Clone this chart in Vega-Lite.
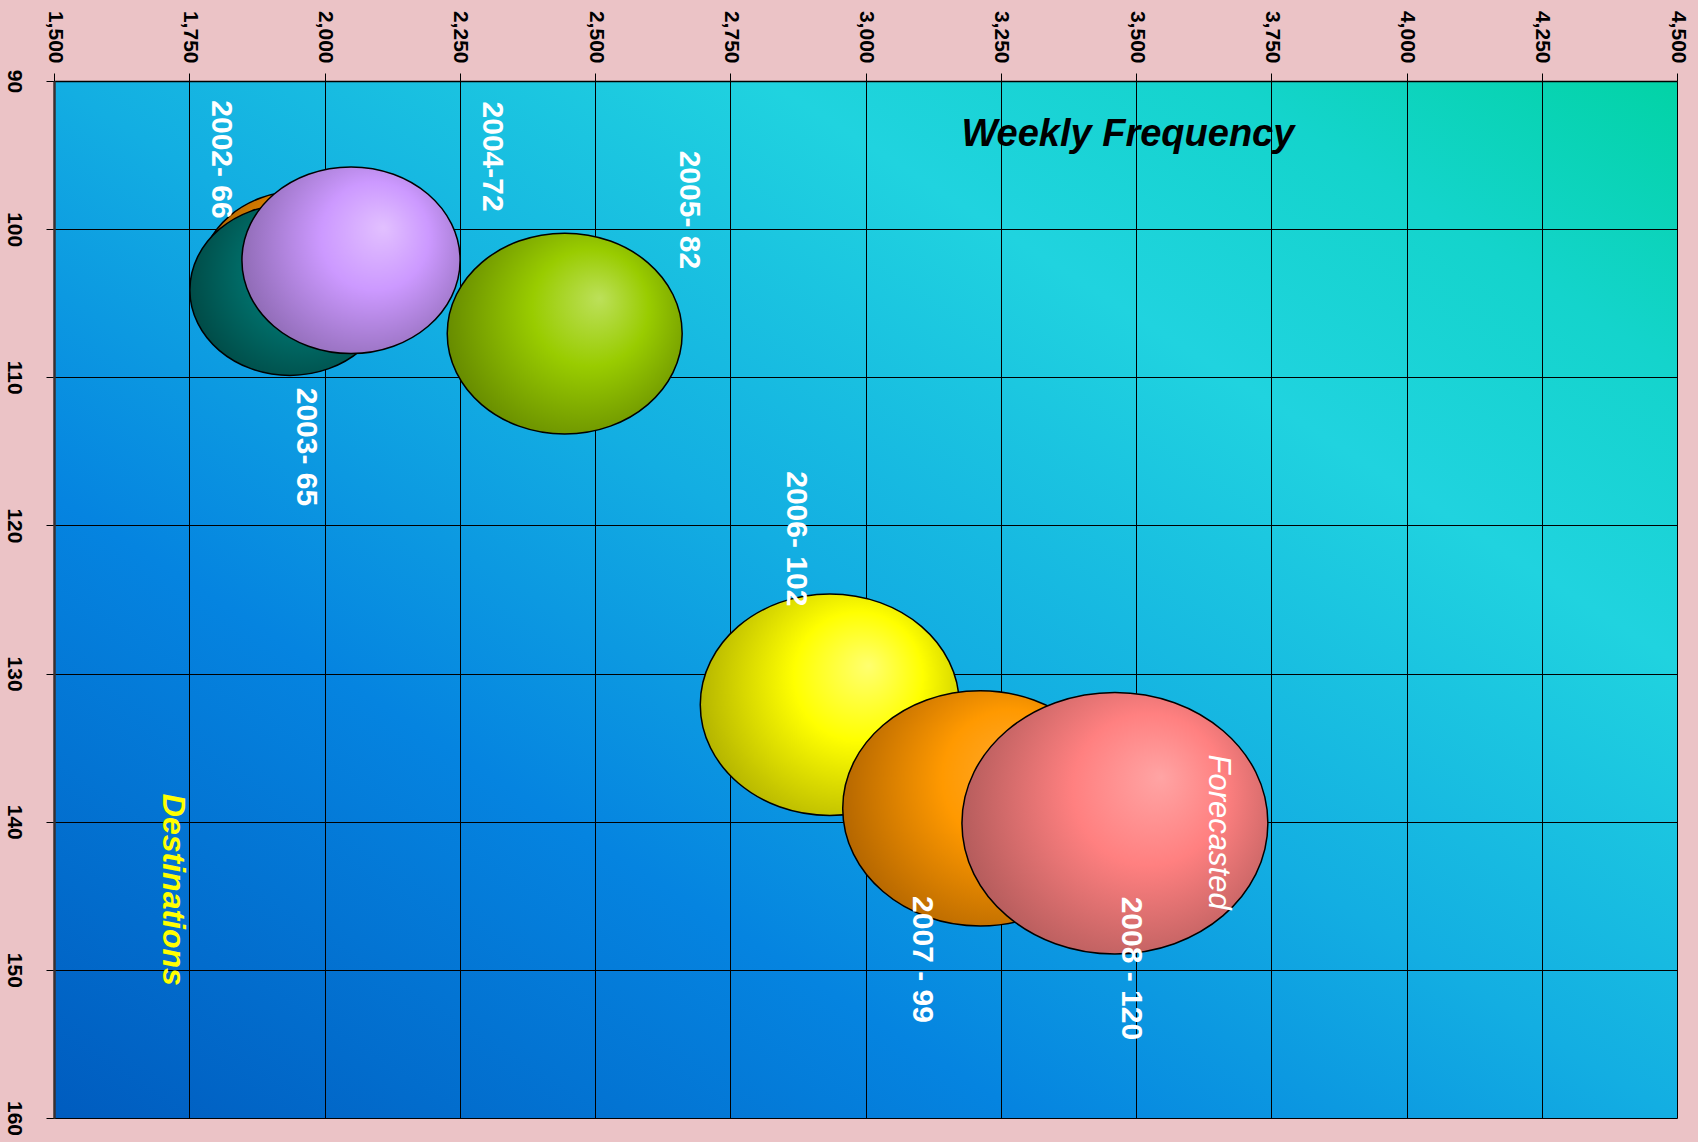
{
  "$schema": "https://vega.github.io/schema/vega-lite/v6.json",
  "width": 1623,
  "height": 1037,
  "autosize": {"type": "none"},
  "padding": {"left": 54, "top": 81, "right": 21, "bottom": 24},
  "background": "#ebc3c6",
  "view": {
    "stroke": null,
    "fill": {
      "gradient": "linear", "x1": 0, "y1": 1, "x2": 1, "y2": 0,
      "stops": [
        {"offset": 0, "color": "#005cbf"},
        {"offset": 0.3, "color": "#0584e0"},
        {"offset": 0.5, "color": "#13aee2"},
        {"offset": 0.72, "color": "#20d3df"},
        {"offset": 0.86, "color": "#14d4cc"},
        {"offset": 1, "color": "#02d3a6"}
      ]
    }
  },
  "config": {
    "font": "Liberation Sans",
    "axis": {
      "gridColor": "#000000", "gridOpacity": 1, "gridWidth": 1,
      "tickColor": "#000000", "tickSize": 8,
      "labelColor": "#000000", "labelFont": "Liberation Sans", "labelFontWeight": "bold", "labelFontSize": 21,
      "title": null
    }
  },
  "datasets": {
    "bubbles": [
      {"year": "2002", "freq": 1955, "dest": 103.2, "volume": 40},
      {"year": "2003", "freq": 1936, "dest": 104.1, "volume": 40},
      {"year": "2004", "freq": 2049, "dest": 102.1, "volume": 47.6},
      {"year": "2005", "freq": 2444, "dest": 107.05, "volume": 55.2},
      {"year": "2006", "freq": 2934, "dest": 132.1, "volume": 67.1},
      {"year": "2007", "freq": 3212, "dest": 139.1, "volume": 75.6},
      {"year": "2008", "freq": 3461, "dest": 140.1, "volume": 93.6}
    ],
    "labels": [
      {"text": "2002- 66", "freq": 1808, "dest": 95.3},
      {"text": "2003- 65", "freq": 1965, "dest": 114.7},
      {"text": "2004-72", "freq": 2309, "dest": 95.1},
      {"text": "2005- 82", "freq": 2673, "dest": 98.7},
      {"text": "2006- 102", "freq": 2871, "dest": 120.9},
      {"text": "2007 - 99", "freq": 3105, "dest": 149.3},
      {"text": "2008 - 120", "freq": 3490, "dest": 149.9}
    ],
    "notes": [
      {"text": "Forecasted", "freq": 3652, "dest": 140.7}
    ],
    "dests": [
      {"text": "Destinations", "freq": 1720, "dest": 144.6}
    ],
    "titles": [
      {"text": "Weekly Frequency", "freq": 3485, "dest": 93.65}
    ]
  },
  "encoding": {
    "x": {
      "field": "freq", "type": "quantitative",
      "scale": {"domain": [1500, 4500], "nice": false, "zero": false},
      "axis": {
        "orient": "top",
        "values": [1500, 1750, 2000, 2250, 2500, 2750, 3000, 3250, 3500, 3750, 4000, 4250, 4500],
        "format": ",d",
        "labelAngle": 90, "labelAlign": "right", "labelBaseline": "middle",
        "labelPadding": 10, "domainColor": "#000000", "domainWidth": 1.5
      }
    },
    "y": {
      "field": "dest", "type": "quantitative",
      "scale": {"domain": [90, 160], "nice": false, "zero": false, "reverse": true},
      "axis": {
        "orient": "left",
        "values": [90, 100, 110, 120, 130, 140, 150, 160],
        "labelAngle": 90, "labelAlign": "center", "labelBaseline": "top",
        "labelPadding": 22, "domainColor": "#3a3030", "domainWidth": 2.5
      }
    }
  },
  "layer": [
    {
      "data": {"name": "bubbles"},
      "transform": [{"filter": "datum.year == '2002'"}],
      "mark": {"type": "point", "filled": true, "opacity": 1, "stroke": "#000000", "strokeWidth": 1.5,
        "shape": "M -1 0 A 1 0.855 0 1 0 1 0 A 1 0.855 0 1 0 -1 0 Z",
        "fill": {"gradient": "radial", "x1": 0.62, "y1": 0.38, "r1": 0, "x2": 0.55, "y2": 0.45, "r2": 0.62,
          "stops": [{"offset": 0, "color": "#ffb040"}, {"offset": 0.4, "color": "#f09000"}, {"offset": 1, "color": "#a05800"}]}},
      "encoding": {"size": {"field": "volume", "type": "quantitative", "scale": {"domain": [0, 100], "range": [0, 100000]}, "legend": null}}
    },
    {
      "data": {"name": "bubbles"},
      "transform": [{"filter": "datum.year == '2003'"}],
      "mark": {"type": "point", "filled": true, "opacity": 1, "stroke": "#000000", "strokeWidth": 1.5,
        "shape": "M -1 0 A 1 0.855 0 1 0 1 0 A 1 0.855 0 1 0 -1 0 Z",
        "fill": {"gradient": "radial", "x1": 0.62, "y1": 0.38, "r1": 0, "x2": 0.55, "y2": 0.45, "r2": 0.62,
          "stops": [{"offset": 0, "color": "#008a86"}, {"offset": 0.4, "color": "#007570"}, {"offset": 1, "color": "#004440"}]}},
      "encoding": {"size": {"field": "volume", "type": "quantitative", "scale": {"domain": [0, 100], "range": [0, 100000]}, "legend": null}}
    },
    {
      "data": {"name": "bubbles"},
      "transform": [{"filter": "datum.year == '2004'"}],
      "mark": {"type": "point", "filled": true, "opacity": 1, "stroke": "#000000", "strokeWidth": 1.5,
        "shape": "M -1 0 A 1 0.855 0 1 0 1 0 A 1 0.855 0 1 0 -1 0 Z",
        "fill": {"gradient": "radial", "x1": 0.65, "y1": 0.35, "r1": 0, "x2": 0.55, "y2": 0.45, "r2": 0.62,
          "stops": [{"offset": 0, "color": "#e2c0ff"}, {"offset": 0.4, "color": "#cc99ff"}, {"offset": 1, "color": "#8664aa"}]}},
      "encoding": {"size": {"field": "volume", "type": "quantitative", "scale": {"domain": [0, 100], "range": [0, 100000]}, "legend": null}}
    },
    {
      "data": {"name": "bubbles"},
      "transform": [{"filter": "datum.year == '2005'"}],
      "mark": {"type": "point", "filled": true, "opacity": 1, "stroke": "#000000", "strokeWidth": 1.5,
        "shape": "M -1 0 A 1 0.855 0 1 0 1 0 A 1 0.855 0 1 0 -1 0 Z",
        "fill": {"gradient": "radial", "x1": 0.65, "y1": 0.35, "r1": 0, "x2": 0.55, "y2": 0.45, "r2": 0.62,
          "stops": [{"offset": 0, "color": "#bce05a"}, {"offset": 0.4, "color": "#99cc00"}, {"offset": 1, "color": "#5e8000"}]}},
      "encoding": {"size": {"field": "volume", "type": "quantitative", "scale": {"domain": [0, 100], "range": [0, 100000]}, "legend": null}}
    },
    {
      "data": {"name": "bubbles"},
      "transform": [{"filter": "datum.year == '2006'"}],
      "mark": {"type": "point", "filled": true, "opacity": 1, "stroke": "#000000", "strokeWidth": 1.5,
        "shape": "M -1 0 A 1 0.855 0 1 0 1 0 A 1 0.855 0 1 0 -1 0 Z",
        "fill": {"gradient": "radial", "x1": 0.65, "y1": 0.35, "r1": 0, "x2": 0.55, "y2": 0.45, "r2": 0.62,
          "stops": [{"offset": 0, "color": "#ffff70"}, {"offset": 0.4, "color": "#ffff00"}, {"offset": 1, "color": "#a8a800"}]}},
      "encoding": {"size": {"field": "volume", "type": "quantitative", "scale": {"domain": [0, 100], "range": [0, 100000]}, "legend": null}}
    },
    {
      "data": {"name": "bubbles"},
      "transform": [{"filter": "datum.year == '2007'"}],
      "mark": {"type": "point", "filled": true, "opacity": 1, "stroke": "#000000", "strokeWidth": 1.5,
        "shape": "M -1 0 A 1 0.855 0 1 0 1 0 A 1 0.855 0 1 0 -1 0 Z",
        "fill": {"gradient": "radial", "x1": 0.65, "y1": 0.35, "r1": 0, "x2": 0.55, "y2": 0.45, "r2": 0.62,
          "stops": [{"offset": 0, "color": "#ffaa30"}, {"offset": 0.4, "color": "#ff9900"}, {"offset": 1, "color": "#a85e00"}]}},
      "encoding": {"size": {"field": "volume", "type": "quantitative", "scale": {"domain": [0, 100], "range": [0, 100000]}, "legend": null}}
    },
    {
      "data": {"name": "bubbles"},
      "transform": [{"filter": "datum.year == '2008'"}],
      "mark": {"type": "point", "filled": true, "opacity": 1, "stroke": "#000000", "strokeWidth": 1.5,
        "shape": "M -1 0 A 1 0.855 0 1 0 1 0 A 1 0.855 0 1 0 -1 0 Z",
        "fill": {"gradient": "radial", "x1": 0.65, "y1": 0.35, "r1": 0, "x2": 0.55, "y2": 0.45, "r2": 0.62,
          "stops": [{"offset": 0, "color": "#ffa4a4"}, {"offset": 0.4, "color": "#ff8080"}, {"offset": 1, "color": "#a85656"}]}},
      "encoding": {"size": {"field": "volume", "type": "quantitative", "scale": {"domain": [0, 100], "range": [0, 100000]}, "legend": null}}
    },
    {
      "data": {"name": "labels"},
      "mark": {"type": "text", "angle": 90, "align": "center", "baseline": "middle", "color": "#ffffff",
        "font": "Liberation Sans", "fontSize": 30, "fontWeight": "bold"},
      "encoding": {"text": {"field": "text"}}
    },
    {
      "data": {"name": "notes"},
      "mark": {"type": "text", "angle": 90, "align": "center", "baseline": "middle", "color": "#ffffff",
        "font": "Liberation Sans", "fontSize": 31, "fontStyle": "italic"},
      "encoding": {"text": {"field": "text"}}
    },
    {
      "data": {"name": "dests"},
      "mark": {"type": "text", "angle": 90, "align": "center", "baseline": "middle", "color": "#ffff00",
        "font": "Liberation Sans", "fontSize": 32, "fontStyle": "italic", "fontWeight": "bold"},
      "encoding": {"text": {"field": "text"}}
    },
    {
      "data": {"name": "titles"},
      "mark": {"type": "text", "angle": 0, "align": "center", "baseline": "middle", "color": "#000000",
        "font": "Liberation Sans", "fontSize": 38, "fontStyle": "italic", "fontWeight": "bold"},
      "encoding": {"text": {"field": "text"}}
    }
  ]
}
